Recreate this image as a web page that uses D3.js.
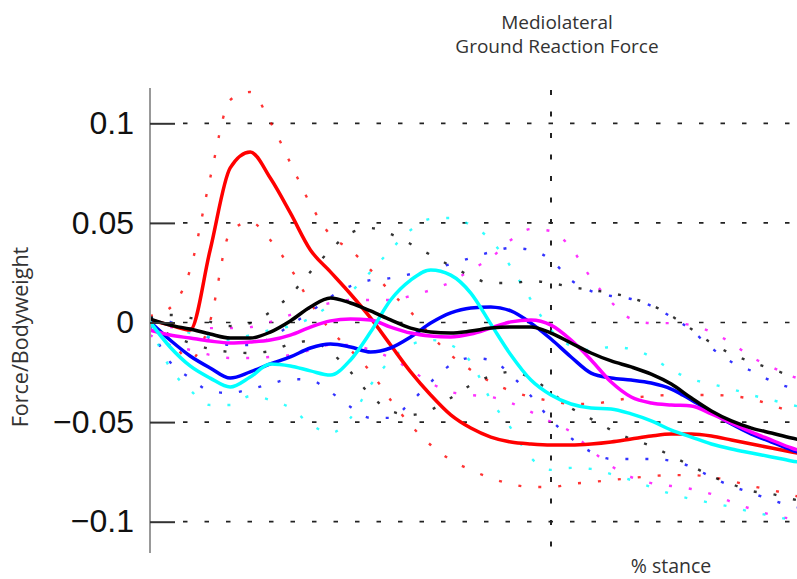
<!DOCTYPE html>
<html>
<head>
<meta charset="utf-8">
<script src="https://cdn.jsdelivr.net/npm/d3@7"></script>
<style>
  html, body { margin: 0; padding: 0; background: #fff; }
  svg { display: block; }
</style>
</head>
<body>
<svg id="chart" width="797" height="579"></svg>
<script>
// ---- data (% stance grid and Force/Bodyweight values) ----
const stance = [0,2.5,5,7.5,10,12.5,15,17.5,20,22.5,25,27.5,30,32.5,35,37.5,40,42.5,45,47.5,50,52.5,55,57.5,60,62.5,65,67.5,70,72.5,75,77.5,80,82.5];

const redMean  = [0.0013,-0.0013,-0.0038,0.0364,0.0776,0.0856,0.0725,0.0550,0.0364,0.0254,0.0143,0.0023,-0.0113,-0.0248,-0.0364,-0.0464,-0.0530,-0.0575,-0.0600,-0.0610,-0.0615,-0.0615,-0.0610,-0.0600,-0.0585,-0.0570,-0.0560,-0.0560,-0.0570,-0.0590,-0.0610,-0.0630,-0.0650,-0.0670];
const redUpper = [0.0033,0.0073,0.0264,0.0725,0.1117,0.1157,0.1007,0.0801,0.0595,0.0439,0.0364,0.0264,0.0153,0.0053,-0.0063,-0.0163,-0.0238,-0.0299,-0.0344,-0.0374,-0.0394,-0.0409,-0.0409,-0.0394,-0.0379,-0.0369,-0.0364,-0.0364,-0.0364,-0.0369,-0.0384,-0.0414,-0.0449,-0.0479];
const redLower = [-0.0013,-0.0088,-0.0188,0.0008,0.0454,0.0505,0.0414,0.0274,0.0098,-0.0038,-0.0138,-0.0248,-0.0389,-0.0515,-0.0615,-0.0690,-0.0740,-0.0781,-0.0811,-0.0826,-0.0826,-0.0811,-0.0801,-0.0791,-0.0781,-0.0771,-0.0766,-0.0766,-0.0776,-0.0796,-0.0821,-0.0841,-0.0866,-0.0891];

const blackMean  = [0.0018,-0.0013,-0.0033,-0.0058,-0.0078,-0.0078,-0.0048,0.0008,0.0078,0.0123,0.0098,0.0058,0.0013,-0.0028,-0.0048,-0.0053,-0.0043,-0.0028,-0.0023,-0.0023,-0.0053,-0.0103,-0.0153,-0.0193,-0.0223,-0.0259,-0.0309,-0.0379,-0.0444,-0.0494,-0.0530,-0.0555,-0.0580,-0.0600];
const blackUpper = [0.0023,0.0038,0.0023,0.0003,-0.0018,-0.0003,0.0053,0.0138,0.0254,0.0364,0.0449,0.0474,0.0444,0.0394,0.0339,0.0284,0.0233,0.0198,0.0198,0.0208,0.0198,0.0178,0.0163,0.0148,0.0123,0.0088,0.0033,-0.0033,-0.0103,-0.0158,-0.0198,-0.0233,-0.0269,-0.0299];
const blackLower = [0.0003,-0.0063,-0.0103,-0.0133,-0.0148,-0.0153,-0.0143,-0.0108,-0.0093,-0.0148,-0.0248,-0.0364,-0.0444,-0.0464,-0.0439,-0.0379,-0.0314,-0.0269,-0.0248,-0.0279,-0.0349,-0.0429,-0.0484,-0.0540,-0.0585,-0.0620,-0.0670,-0.0720,-0.0771,-0.0811,-0.0846,-0.0861,-0.0886,-0.0906];

const magentaMean  = [-0.0038,-0.0063,-0.0078,-0.0093,-0.0103,-0.0098,-0.0088,-0.0063,-0.0023,0.0008,0.0018,0.0013,-0.0023,-0.0053,-0.0068,-0.0073,-0.0058,-0.0028,0.0003,0.0013,-0.0013,-0.0088,-0.0188,-0.0299,-0.0374,-0.0404,-0.0414,-0.0419,-0.0459,-0.0505,-0.0550,-0.0590,-0.0630,-0.0660];
const magentaUpper = [-0.0018,-0.0023,-0.0028,-0.0028,-0.0028,-0.0023,0.0003,0.0038,0.0073,0.0098,0.0113,0.0113,0.0113,0.0133,0.0163,0.0203,0.0264,0.0324,0.0414,0.0469,0.0459,0.0374,0.0223,0.0103,0.0018,-0.0003,-0.0003,-0.0013,-0.0048,-0.0103,-0.0173,-0.0223,-0.0269,-0.0299];
const magentaLower = [-0.0063,-0.0113,-0.0138,-0.0163,-0.0178,-0.0178,-0.0173,-0.0163,-0.0138,-0.0113,-0.0113,-0.0138,-0.0178,-0.0238,-0.0304,-0.0349,-0.0364,-0.0374,-0.0404,-0.0449,-0.0499,-0.0550,-0.0640,-0.0720,-0.0776,-0.0806,-0.0821,-0.0836,-0.0861,-0.0901,-0.0936,-0.0966,-0.0986,-0.1001];

const blueMean  = [0.0003,-0.0088,-0.0168,-0.0228,-0.0279,-0.0248,-0.0208,-0.0173,-0.0128,-0.0108,-0.0123,-0.0148,-0.0128,-0.0073,-0.0003,0.0048,0.0073,0.0078,0.0058,-0.0003,-0.0083,-0.0173,-0.0254,-0.0279,-0.0289,-0.0304,-0.0334,-0.0389,-0.0449,-0.0510,-0.0560,-0.0600,-0.0640,-0.0670];
const blueUpper = [0.0023,0.0003,-0.0038,-0.0078,-0.0113,-0.0113,-0.0078,-0.0013,0.0053,0.0128,0.0183,0.0213,0.0223,0.0243,0.0264,0.0294,0.0324,0.0354,0.0374,0.0364,0.0314,0.0213,0.0158,0.0133,0.0118,0.0083,0.0028,-0.0038,-0.0128,-0.0198,-0.0243,-0.0294,-0.0329,-0.0354];
const blueLower = [-0.0018,-0.0198,-0.0279,-0.0344,-0.0354,-0.0334,-0.0309,-0.0284,-0.0289,-0.0349,-0.0424,-0.0479,-0.0479,-0.0399,-0.0299,-0.0213,-0.0178,-0.0188,-0.0264,-0.0369,-0.0489,-0.0580,-0.0650,-0.0685,-0.0685,-0.0685,-0.0695,-0.0725,-0.0776,-0.0821,-0.0856,-0.0891,-0.0921,-0.0941];

const cyanMean  = [0.0003,-0.0123,-0.0218,-0.0279,-0.0324,-0.0274,-0.0208,-0.0218,-0.0243,-0.0264,-0.0188,-0.0048,0.0113,0.0213,0.0264,0.0238,0.0148,-0.0008,-0.0163,-0.0289,-0.0364,-0.0409,-0.0429,-0.0434,-0.0459,-0.0494,-0.0540,-0.0575,-0.0610,-0.0635,-0.0655,-0.0675,-0.0695,-0.0710];
const cyanUpper = [0.0023,-0.0013,-0.0053,-0.0073,-0.0088,-0.0063,-0.0038,-0.0018,0.0023,0.0088,0.0153,0.0254,0.0364,0.0464,0.0520,0.0525,0.0489,0.0414,0.0279,0.0113,-0.0038,-0.0118,-0.0138,-0.0123,-0.0133,-0.0173,-0.0238,-0.0284,-0.0309,-0.0334,-0.0364,-0.0389,-0.0414,-0.0434];
const cyanLower = [-0.0013,-0.0228,-0.0339,-0.0414,-0.0414,-0.0369,-0.0389,-0.0429,-0.0510,-0.0555,-0.0479,-0.0314,-0.0188,-0.0113,-0.0088,-0.0113,-0.0198,-0.0389,-0.0530,-0.0680,-0.0740,-0.0730,-0.0735,-0.0761,-0.0791,-0.0826,-0.0861,-0.0886,-0.0906,-0.0926,-0.0951,-0.0971,-0.0991,-0.1006];

const yTicks = [-0.1, -0.05, 0, 0.05, 0.1];
const xGrid = [50];
const titleLines = ["Mediolateral", "Ground Reaction Force"];
const yLabel = "Force/Bodyweight";
const xLabel = "% stance";

// series table built from the named arrays (drawn in this order)
const series = [
  { color: "#ff0000", mean: redMean,     upper: redUpper,     lower: redLower },
  { color: "#0000ff", mean: blueMean,    upper: blueUpper,    lower: blueLower },
  { color: "#ff00ff", mean: magentaMean, upper: magentaUpper, lower: magentaLower },
  { color: "#00ffff", mean: cyanMean,    upper: cyanUpper,    lower: cyanLower },
  { color: "#000000", mean: blackMean,   upper: blackUpper,   lower: blackLower }
];

// ---- drawing ----
const W = 797, H = 579;
const svg = d3.select("#chart");
const x = d3.scaleLinear().domain([0, 100]).range([150, 952]);
const y = d3.scaleLinear().domain([-0.1, 0.1]).range([521.7, 123.3]);

svg.append("defs").append("clipPath").attr("id", "plotclip")
  .append("rect").attr("x", 151).attr("y", 0).attr("width", W - 151).attr("height", H);

// title
svg.append("g").selectAll("text").data(titleLines).join("text")
  .attr("x", 557).attr("y", (d, i) => 29 + i * 24)
  .attr("text-anchor", "middle")
  .attr("font-family", "'Open Sans', 'Noto Sans', sans-serif")
  .attr("font-size", 19).attr("fill", "#333")
  .text(d => d);

// horizontal grid (dash-dot look)
const grid = svg.append("g").attr("clip-path", "url(#plotclip)");
grid.selectAll("line.h").data(yTicks).join("line").attr("class", "h")
  .attr("x1", 183).attr("x2", W)
  .attr("y1", d => y(d)).attr("y2", d => y(d))
  .attr("stroke", "#222").attr("stroke-width", 1.7)
  .attr("stroke-dasharray", "4.5 17");
grid.selectAll("line.v").data(xGrid).join("line").attr("class", "v")
  .attr("x1", d => x(d)).attr("x2", d => x(d))
  .attr("y1", 90).attr("y2", 553)
  .attr("stroke", "#222").attr("stroke-width", 2)
  .attr("stroke-dasharray", "5 16.5");

// lines
const line = d3.line().x((d, i) => x(stance[i])).y(d => y(d)).curve(d3.curveMonotoneX);
const plot = svg.append("g").attr("clip-path", "url(#plotclip)");
series.forEach(s => {
  [s.upper, s.lower].forEach(arr => {
    plot.append("path").datum(arr)
      .attr("d", line).attr("fill", "none")
      .attr("stroke", s.color).attr("stroke-width", 2.4)
      .attr("stroke-opacity", 0.8)
      .attr("stroke-dasharray", "3 17");
  });
});
series.forEach(s => {
  plot.append("path").datum(s.mean)
    .attr("d", line).attr("fill", "none")
    .attr("stroke", s.color).attr("stroke-width", 3.5)
    .attr("stroke-linejoin", "round");
});

// y axis
svg.append("line").attr("x1", 150).attr("x2", 150).attr("y1", 88).attr("y2", 553)
  .attr("stroke", "#999").attr("stroke-width", 2);
const yAxis = d3.axisLeft(y).tickValues(yTicks).tickSize(-25).tickPadding(16)
  .tickFormat(d => (d < 0 ? "\u2212" : "") + Math.abs(d));
const ga = svg.append("g").attr("transform", "translate(150,0)").call(yAxis);
ga.select(".domain").remove();
ga.selectAll(".tick line").attr("stroke", "#333").attr("stroke-width", 2);
ga.selectAll(".tick text")
  .attr("font-family", "'Liberation Sans', Arial, sans-serif")
  .attr("font-size", 32).attr("fill", "#111");

// axis labels
svg.append("text").attr("transform", "translate(28,337) rotate(-90)")
  .attr("text-anchor", "middle")
  .attr("font-family", "'Open Sans', 'Noto Sans', sans-serif")
  .attr("font-size", 21.5).attr("fill", "#333").text(yLabel);
svg.append("text").attr("x", 671).attr("y", 573)
  .attr("text-anchor", "middle")
  .attr("font-family", "'Open Sans', 'Noto Sans', sans-serif")
  .attr("font-size", 19.5).attr("fill", "#333").text(xLabel);
</script>
</body>
</html>
